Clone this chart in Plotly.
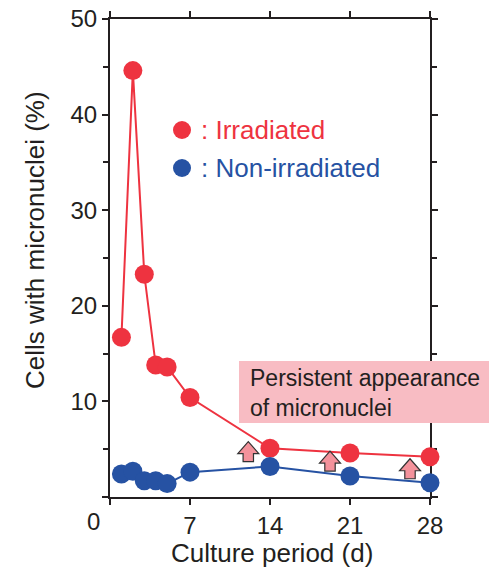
import plotly.graph_objects as go

# ---- data ----
days_irr = [1, 2, 3, 4, 5, 7, 14, 21, 28]
irradiated = [16.7, 44.6, 23.3, 13.8, 13.6, 10.4, 5.1, 4.6, 4.2]
days_non = [1, 2, 3, 4, 5, 7, 14, 21, 28]
non_irradiated = [2.4, 2.7, 1.7, 1.7, 1.4, 2.6, 3.2, 2.2, 1.5]
x_ticks = [0, 7, 14, 21, 28]
x_ticktext = ["", "7", "14", "21", "28"]
y_ticks = [0, 10, 20, 30, 40, 50]
y_ticktext = ["", "10", "20", "30", "40", "50"]
arrow_x = [12.1, 19.25, 26.25]
arrow_tip_y = [5.8, 4.8, 4.0]

RED = "#EE3340"
BLUE = "#2652A3"
INK = "#231F20"
FONT = "Liberation Sans, Arial, Helvetica, sans-serif"

W, H = 489, 569
ML, MR, MT, MB = 110, 59, 19, 72
PW, PH = W - ML - MR, H - MT - MB
XR = [0, 28]
YR = [0, 50]
px_x = (XR[1] - XR[0]) / PW
px_y = (YR[1] - YR[0]) / PH


def px(xp):
    return (xp - ML) / PW


def py(yp):
    return (H - MB - yp) / PH


fig = go.Figure()
fig.add_trace(go.Scatter(x=days_irr, y=irradiated, mode="lines+markers",
                         line=dict(color=RED, width=2),
                         marker=dict(color=RED, size=19), cliponaxis=False,
                         name="Irradiated"))
fig.add_trace(go.Scatter(x=days_non, y=non_irradiated, mode="lines+markers",
                         line=dict(color=BLUE, width=2),
                         marker=dict(color=BLUE, size=19), cliponaxis=False,
                         name="Non-irradiated"))

shapes = []
# block arrows
for xt, yt in zip(arrow_x, arrow_tip_y):
    hw, sw, hh, th = 10.5 * px_x, 5.2 * px_x, 12 * px_y, 20 * px_y
    pts = [(xt, yt), (xt + hw, yt - hh), (xt + sw, yt - hh), (xt + sw, yt - th),
           (xt - sw, yt - th), (xt - sw, yt - hh), (xt - hw, yt - hh)]
    path = "M " + " L ".join(f"{a},{b}" for a, b in pts) + " Z"
    shapes.append(dict(type="path", xref="x", yref="y", path=path,
                       fillcolor="#F3929B", line=dict(color="#333333", width=1.2),
                       layer="above"))
# pink box
shapes.append(dict(type="rect", xref="paper", yref="paper",
                   x0=px(239), x1=px(495), y0=py(423), y1=py(361),
                   fillcolor="#F8BCC3", line=dict(width=0), layer="above"))
# legend circles
for yp, c in [(130, RED), (168, BLUE)]:
    shapes.append(dict(type="circle", xref="paper", yref="paper",
                       xsizemode="pixel", ysizemode="pixel",
                       xanchor=px(182), yanchor=py(yp),
                       x0=-9, x1=9, y0=-9, y1=9,
                       fillcolor=c, line=dict(width=0)))

annotations = [
    dict(xref="paper", yref="paper", x=px(199), y=py(130),
         text=": Irradiated", showarrow=False, xanchor="left", yanchor="middle",
         font=dict(family=FONT, size=26, color=RED)),
    dict(xref="paper", yref="paper", x=px(199), y=py(168),
         text=": Non-irradiated", showarrow=False, xanchor="left", yanchor="middle",
         font=dict(family=FONT, size=26, color=BLUE)),
    dict(xref="paper", yref="paper", x=px(248), y=py(393),
         text="Persistent appearance<br>of micronuclei", showarrow=False,
         xanchor="left", yanchor="middle", align="left",
         font=dict(family=FONT, size=23, color=INK)),
    dict(xref="paper", yref="paper", x=px(93), y=py(521),
         text="0", showarrow=False, xanchor="center", yanchor="middle",
         font=dict(family=FONT, size=24, color=INK)),
    dict(xref="paper", yref="paper", x=px(272), y=py(553),
         text="Culture period (d)", showarrow=False, xanchor="center", yanchor="middle",
         font=dict(family=FONT, size=26, color=INK)),
    dict(xref="paper", yref="paper", x=px(35), y=py(240), textangle=-90,
         text="Cells with micronuclei (%)", showarrow=False, xanchor="center", yanchor="middle",
         font=dict(family=FONT, size=26, color=INK)),
]

axis_common = dict(showline=True, linecolor=INK, linewidth=2, mirror="allticks",
                   ticks="outside", ticklen=6, tickwidth=2, tickcolor=INK,
                   showgrid=False, zeroline=False, layer="below traces",
                   automargin=False,
                   tickfont=dict(family=FONT, size=24, color=INK))

fig.update_layout(
    width=W, height=H, margin=dict(l=ML, r=MR, t=MT, b=MB),
    paper_bgcolor="white", plot_bgcolor="white", showlegend=False,
    xaxis=dict(range=XR, tickvals=x_ticks, ticktext=x_ticktext, **axis_common),
    yaxis=dict(range=YR, tickvals=y_ticks, ticktext=y_ticktext,
               minor=dict(dtick=5, ticks="outside", ticklen=5, tickwidth=2, tickcolor=INK),
               **axis_common),
    shapes=shapes, annotations=annotations,
)

fig.write_html("out.html", config={"displayModeBar": False},
               post_script="document.body.style.margin='0';document.body.style.overflow='hidden';")
